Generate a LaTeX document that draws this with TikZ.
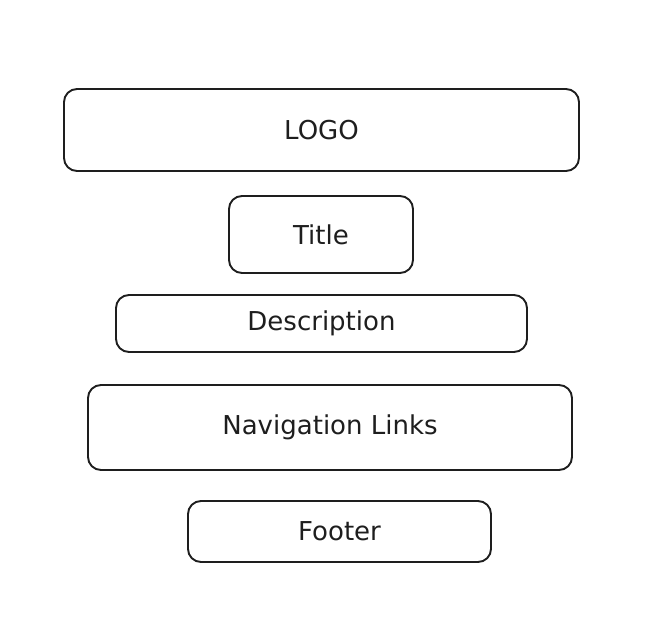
\documentclass[tikz,border=0pt]{standalone}
\usepackage{fontspec}
\setmainfont{DejaVu Sans}
\usepackage{tikz}
\usetikzlibrary{positioning}

\definecolor{inkgray}{HTML}{1E1E1E}

\begin{document}
\begin{tikzpicture}[x=1pt, y=-1pt]
    % page wireframe - one box per section
    \useasboundingbox (0,0) rectangle (649,643);
    \tikzset{section/.style={draw=inkgray, line width=1.9pt, rectangle, rounded corners=13pt, inner sep=0pt, text=inkgray, font=\fontsize{26}{29}\selectfont}}

    \node[section, minimum width=515pt, minimum height=82pt] (logo) at (321.5,130) {LOGO};
    \node[section, minimum width=184pt, minimum height=77pt] (title) at (321,234.5) {Title};
    \node[section, minimum width=411pt, minimum height=57pt] (description) at (321.5,323.5) {Description};
    \node[section, minimum width=484pt, minimum height=85pt] (navlinks) at (330,427.5) {Navigation Links};
    \node[section, minimum width=303pt, minimum height=61pt] (footer) at (339.5,531.5) {Footer};
\end{tikzpicture}
\end{document}
